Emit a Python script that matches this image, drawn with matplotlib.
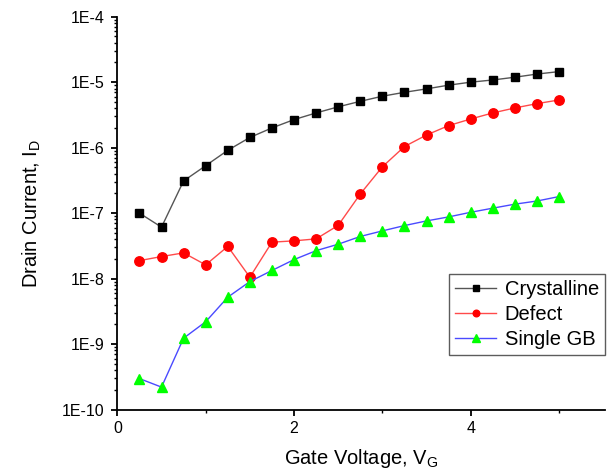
import matplotlib
matplotlib.use("Agg")
import matplotlib.pyplot as plt
from matplotlib.ticker import FixedLocator, FixedFormatter, LogLocator, NullFormatter, MultipleLocator

plt.rcParams['font.family'] = ['Liberation Sans', 'DejaVu Sans']
plt.rcParams['mathtext.default'] = 'regular'

gate_voltage = [0.25, 0.5, 0.75, 1.0, 1.25, 1.5, 1.75, 2.0, 2.25, 2.5,
                2.75, 3.0, 3.25, 3.5, 3.75, 4.0, 4.25, 4.5, 4.75, 5.0]

crystalline = [1.0e-7, 6.1e-8, 3.1e-7, 5.3e-7, 9.1e-7, 1.43e-6, 2.0e-6, 2.68e-6, 3.39e-6, 4.2e-6,
               5.1e-6, 6.1e-6, 7.0e-6, 7.9e-6, 9.0e-6, 1.0e-5, 1.08e-5, 1.19e-5, 1.33e-5, 1.45e-5]

defect = [1.88e-8, 2.17e-8, 2.47e-8, 1.62e-8, 3.1e-8, 1.05e-8, 3.6e-8, 3.77e-8, 4.04e-8, 6.5e-8,
          1.96e-7, 5.1e-7, 1.04e-6, 1.56e-6, 2.17e-6, 2.74e-6, 3.39e-6, 4.04e-6, 4.7e-6, 5.35e-6]

single_gb = [2.97e-10, 2.2e-10, 1.23e-9, 2.19e-9, 5.2e-9, 9.0e-9, 1.33e-8, 1.95e-8, 2.67e-8, 3.35e-8,
             4.4e-8, 5.35e-8, 6.45e-8, 7.6e-8, 8.75e-8, 1.03e-7, 1.19e-7, 1.37e-7, 1.53e-7, 1.79e-7]

series_labels = ['Crystalline', 'Defect', 'Single GB']

y_tick_values = [1e-10, 1e-9, 1e-8, 1e-7, 1e-6, 1e-5, 1e-4]
y_tick_labels = ['1E-10', '1E-9', '1E-8', '1E-7', '1E-6', '1E-5', '1E-4']
x_tick_values = [0, 2, 4]
x_tick_labels = ['0', '2', '4']

fig = plt.figure(figsize=(6.13, 4.74), dpi=100)
ax = fig.add_axes([0.1914, 0.136, 0.7956, 0.8288])

ax.plot(gate_voltage, crystalline, color='#555555', lw=1.0, marker='s', ms=6.3,
        mfc='black', mec='black', label=series_labels[0])
ax.plot(gate_voltage, defect, color='#ff4a4a', lw=1.0, marker='o', ms=6.8,
        mfc='red', mec='red', label=series_labels[1])
ax.plot(gate_voltage, single_gb, color='#4a4aff', lw=1.0, marker='^', ms=7.5,
        mfc='#00ff00', mec='#00ff00', label=series_labels[2])

ax.set_yscale('log')
ax.set_ylim(1e-10, 1e-4)
ax.set_xlim(0, 5.52)

ax.yaxis.set_major_locator(FixedLocator(y_tick_values))
ax.yaxis.set_major_formatter(FixedFormatter(y_tick_labels))
ax.yaxis.set_minor_locator(LogLocator(base=10, subs=range(2, 10), numticks=20))
ax.yaxis.set_minor_formatter(NullFormatter())

ax.xaxis.set_major_locator(FixedLocator(x_tick_values))
ax.xaxis.set_major_formatter(FixedFormatter(x_tick_labels))
ax.xaxis.set_minor_locator(MultipleLocator(1))

for s in ['top', 'right']:
    ax.spines[s].set_visible(False)
for s in ['left', 'bottom']:
    ax.spines[s].set_linewidth(1.3)
    ax.spines[s].set_color('black')

ax.tick_params(which='major', direction='out', length=4.5, width=1.3, labelsize=11.5, colors='black')
ax.tick_params(which='minor', direction='out', length=2.5, width=1.0)
ax.tick_params(axis='y', which='major', pad=4.5)
ax.tick_params(axis='x', which='major', pad=4)

ax.set_xlabel('Gate Voltage, V$_G$', fontsize=14.5, labelpad=8)
ax.set_ylabel('Drain Current, I$_D$', fontsize=14.5, labelpad=14)

leg = ax.legend(loc='upper right', bbox_to_anchor=(1.0, 0.345), borderaxespad=0,
                fontsize=14.5, frameon=True, fancybox=False, markerscale=0.7,
                handlelength=2.0, handletextpad=0.45, labelspacing=0.3,
                borderpad=0.3)
leg.get_frame().set_edgecolor('#333333')
leg.get_frame().set_linewidth(1.0)

fig.savefig('out.png', dpi=100)
